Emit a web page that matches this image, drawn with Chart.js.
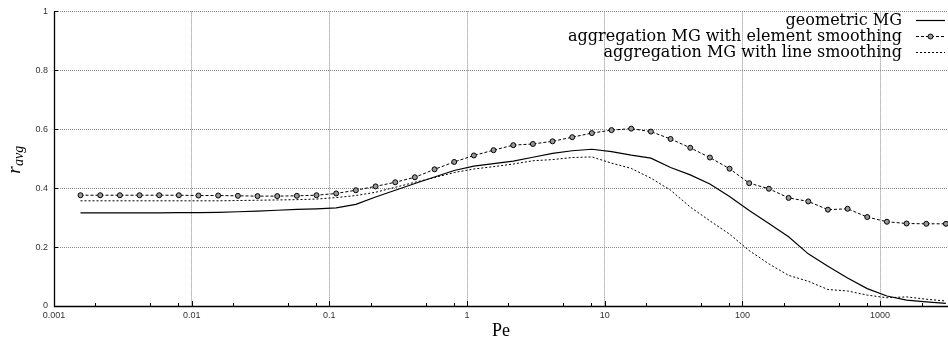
<!DOCTYPE html>
<html>
<head>
<meta charset="utf-8">
<script src="https://cdn.jsdelivr.net/npm/chart.js@4"></script>
<style>
  html, body { margin: 0; padding: 0; background: #fff; }
  #wrap { width: 948px; height: 344px; }
</style>
</head>
<body>
<div id="wrap"><canvas id="chart" width="948" height="344"></canvas></div>
<script>
// Pe values (x), seven points per decade
const peValues = [
  0.001558, 0.002166, 0.003009, 0.004181, 0.005808, 0.008069,
  0.01121, 0.01558, 0.02166, 0.03009, 0.04181, 0.05808, 0.08069,
  0.1121, 0.1558, 0.2166, 0.3009, 0.4181, 0.5808, 0.8069,
  1.121, 1.558, 2.166, 3.009, 4.181, 5.808, 8.069,
  11.21, 15.58, 21.66, 30.09, 41.81, 58.08, 80.69,
  112.1, 155.8, 216.6, 300.9, 418.1, 580.8, 806.9,
  1121, 1558, 2166, 3009
];

// r_avg pour chaque méthode
const geometricMG = [
  0.316, 0.316, 0.316, 0.316, 0.316, 0.317,
  0.317, 0.318, 0.320, 0.322, 0.325, 0.328, 0.330,
  0.333, 0.345, 0.370, 0.393, 0.416, 0.438, 0.460,
  0.475, 0.483, 0.492, 0.505, 0.518, 0.527, 0.532,
  0.524, 0.512, 0.502, 0.470, 0.445, 0.414, 0.372,
  0.324, 0.280, 0.235, 0.177, 0.135, 0.095, 0.059,
  0.034, 0.020, 0.014, 0.009
];

const elementSmoothing = [
  0.376, 0.376, 0.376, 0.376, 0.376, 0.376,
  0.375, 0.375, 0.374, 0.373, 0.373, 0.374, 0.376,
  0.382, 0.393, 0.406, 0.420, 0.437, 0.464, 0.489,
  0.511, 0.529, 0.546, 0.550, 0.559, 0.573, 0.587,
  0.597, 0.602, 0.592, 0.567, 0.537, 0.504, 0.466,
  0.417, 0.398, 0.367, 0.355, 0.327, 0.330, 0.302,
  0.286, 0.280, 0.279, 0.279
];

const lineSmoothing = [
  0.357, 0.357, 0.357, 0.357, 0.357, 0.357,
  0.357, 0.357, 0.358, 0.359, 0.360, 0.361, 0.363,
  0.368, 0.375, 0.386, 0.403, 0.420, 0.436, 0.453,
  0.465, 0.473, 0.482, 0.493, 0.497, 0.504, 0.506,
  0.485, 0.467, 0.434, 0.393, 0.336, 0.289, 0.244,
  0.188, 0.143, 0.104, 0.084, 0.056, 0.051, 0.037,
  0.028, 0.031, 0.023, 0.017
];

const seriesLabels = [
  'geometric MG',
  'aggregation MG with element smoothing',
  'aggregation MG with line smoothing'
];

// graduations de l'axe x (majeures avec texte, mineures sans)
const xMajorTicks = [0.001, 0.01, 0.1, 1, 10, 100, 1000];
const xMinorFactors = [2, 5, 8];
const yTicks = [0, 0.2, 0.4, 0.6, 0.8, 1];

const xMin = 0.001;
const xMax = 3115;

function toPoints(values) {
  return peValues.map((pe, i) => ({ x: pe, y: values[i] }));
}

// liste complète des graduations x
const xAllTicks = [];
xMajorTicks.forEach(m => {
  xAllTicks.push(m);
  xMinorFactors.forEach(f => {
    const v = m * f;
    if (v <= xMax) xAllTicks.push(v);
  });
});

function isMajor(v) {
  return xMajorTicks.some(m => Math.abs(v - m) / m < 1e-6);
}

// Axes, petites graduations internes et légende façon gnuplot
const gnuplotDecor = {
  id: 'gnuplotDecor',
  afterDatasetsDraw(chart) {
    const ctx = chart.ctx;
    const area = chart.chartArea;
    const xs = chart.scales.x;
    const ys = chart.scales.y;

    ctx.save();
    ctx.strokeStyle = '#000';
    ctx.lineWidth = 1;
    ctx.setLineDash([]);

    // graduations x vers l'intérieur
    xAllTicks.forEach(v => {
      const px = Math.round(xs.getPixelForValue(v)) + 0.5;
      const len = isMajor(v) ? 5 : 3;
      ctx.beginPath();
      ctx.moveTo(px, area.bottom);
      ctx.lineTo(px, area.bottom - len);
      ctx.stroke();
    });
    // graduations y
    yTicks.forEach(v => {
      const py = Math.round(ys.getPixelForValue(v)) + 0.5;
      ctx.beginPath();
      ctx.moveTo(area.left, py);
      ctx.lineTo(area.left + 4, py);
      ctx.stroke();
    });

    // axes gauche et bas
    ctx.lineWidth = 1.3;
    ctx.beginPath();
    ctx.moveTo(area.left + 0.5, area.top);
    ctx.lineTo(area.left + 0.5, area.bottom + 0.5);
    ctx.lineTo(area.right, area.bottom + 0.5);
    ctx.stroke();

    // titre y : r_avg
    ctx.fillStyle = '#000';
    ctx.translate(15, 160);
    ctx.rotate(-Math.PI / 2);
    ctx.textBaseline = 'alphabetic';
    ctx.textAlign = 'left';
    ctx.font = 'italic 19px "Liberation Serif"';
    const rW = ctx.measureText('r').width;
    ctx.font = 'italic 14px "Liberation Serif"';
    const subW = ctx.measureText('avg').width;
    const start = -(rW + subW) / 2;
    ctx.font = 'italic 19px "Liberation Serif"';
    ctx.fillText('r', start, 5);
    ctx.font = 'italic 14px "Liberation Serif"';
    ctx.fillText('avg', start + rW + 0.5, 8);
    ctx.restore();

    // légende
    ctx.save();
    ctx.font = '16px "DejaVu Serif"';
    ctx.fillStyle = '#000';
    ctx.textAlign = 'right';
    ctx.textBaseline = 'middle';
    const rows = [20, 36, 52];
    chart.data.datasets.forEach((ds, i) => {
      const y = rows[i];
      ctx.fillText(ds.label, 902, y + 1);
      ctx.strokeStyle = ds.borderColor;
      ctx.lineWidth = ds.borderWidth;
      ctx.setLineDash(ds.borderDash || []);
      ctx.beginPath();
      ctx.moveTo(916, y + 0.5);
      ctx.lineTo(945, y + 0.5);
      ctx.stroke();
      if (ds.pointRadius > 0) {
        ctx.setLineDash([]);
        ctx.lineWidth = 1;
        ctx.fillStyle = ds.pointBackgroundColor;
        ctx.beginPath();
        ctx.arc(930.5, y + 0.5, ds.pointRadius, 0, Math.PI * 2);
        ctx.fill();
        ctx.stroke();
        ctx.fillStyle = '#000';
      }
    });
    ctx.restore();
  }
};

document.addEventListener('DOMContentLoaded', function () {
  const ctx = document.getElementById('chart').getContext('2d');

  new Chart(ctx, {
    type: 'line',
    data: {
      datasets: [
        {
          label: seriesLabels[0],
          data: toPoints(geometricMG),
          borderColor: '#000',
          borderWidth: 1.2,
          pointRadius: 0,
          fill: false,
          tension: 0
        },
        {
          label: seriesLabels[1],
          data: toPoints(elementSmoothing),
          borderColor: '#000',
          borderWidth: 1,
          borderDash: [3, 2],
          pointRadius: 2.5,
          pointBorderWidth: 1,
          pointBorderColor: '#000',
          pointBackgroundColor: '#999',
          fill: false,
          tension: 0
        },
        {
          label: seriesLabels[2],
          data: toPoints(lineSmoothing),
          borderColor: '#000',
          borderWidth: 1,
          borderDash: [2, 2],
          pointRadius: 0,
          fill: false,
          tension: 0
        }
      ]
    },
    options: {
      responsive: false,
      animation: false,
      parsing: true,
      // autoPadding désactivé : sinon Chart.js réserve de la place pour les points
      layout: { autoPadding: false, padding: { top: 8, right: 0, left: 0, bottom: 0 } },
      plugins: {
        legend: { display: false },
        tooltip: { enabled: false }
      },
      scales: {
        x: {
          type: 'logarithmic',
          min: xMin,
          max: xMax,
          afterBuildTicks: scale => {
            scale.ticks = xAllTicks.map(v => ({ value: v, major: isMajor(v) }));
          },
          afterFit: scale => { scale.height = 38; },
          ticks: {
            autoSkip: false,
            maxRotation: 0,
            padding: 0,
            color: '#333',
            font: { family: '"Liberation Sans", Arial', size: 9, lineHeight: '20px' },
            callback: v => isMajor(v) ? String(v) : ''
          },
          grid: {
            drawTicks: false,
            color: ctx => (ctx.tick && isMajor(ctx.tick.value)) ? '#888' : 'rgba(0,0,0,0)',
            lineWidth: 1
          },
          border: { display: false, dash: [1, 1] },
          title: {
            display: true,
            text: 'Pe',
            color: '#000',
            font: { family: '"Liberation Serif"', size: 18 },
            padding: { top: 0, bottom: 2 }
          }
        },
        y: {
          type: 'linear',
          min: 0,
          max: 1,
          afterBuildTicks: scale => {
            scale.ticks = yTicks.map(v => ({ value: v }));
          },
          afterFit: scale => { scale.width = 54; },
          ticks: {
            padding: 6,
            color: '#333',
            font: { family: '"Liberation Sans", Arial', size: 9 },
            callback: v => String(v)
          },
          grid: {
            drawTicks: false,
            color: '#888',
            lineWidth: 1
          },
          border: { display: false, dash: [1, 1] }
        }
      }
    },
    plugins: [gnuplotDecor]
  });
});
</script>
</body>
</html>
